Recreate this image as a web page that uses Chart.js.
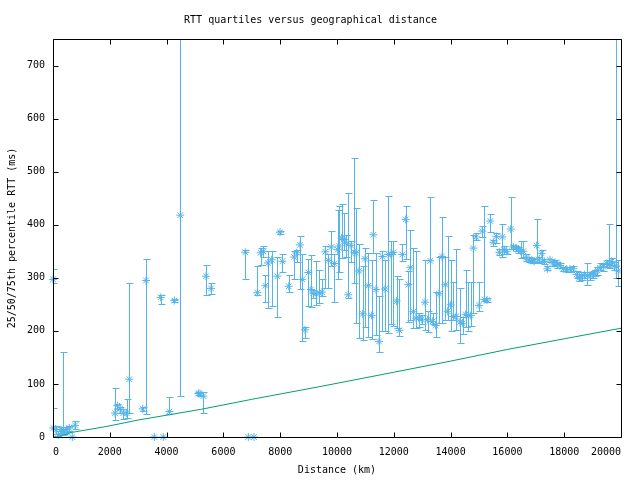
<!DOCTYPE html>
<html>
<head>
<meta charset="utf-8">
<script src="https://cdn.jsdelivr.net/npm/chart.js@4.4.0/dist/chart.umd.min.js"></script>
<style>
  html, body { margin: 0; padding: 0; background: #fff; }
  #wrap { width: 640px; height: 480px; }
</style>
</head>
<body>
<div id="wrap"><canvas id="rttChart" width="640" height="480"></canvas></div>
<script>
// distance (km) and 25/50/75th percentile RTT (ms)
const distKm = [
  0, 11, 106, 188, 282, 363, 387, 482, 575, 680, 775,
  2183, 2265, 2360, 2477, 2594, 2688, 3158, 3275, 3568, 3792, 3885, 4096, 4272, 4483,
  5117, 5176, 5293, 5387, 5563, 6772, 6877, 7077, 7194, 7312, 7406, 7476, 7570, 7700,
  7900, 7993, 8075, 8300, 8490, 8580, 8697, 8778, 8873, 8990, 9085, 9167, 9261, 9378,
  9472, 9589, 9695, 9800, 9906, 10024, 10080, 10165, 10246, 10320, 10398, 10493, 10610,
  10669, 10775, 10905, 10986, 11103, 11221, 11280, 11373, 11479, 11596, 11690, 11807,
  11901, 11983, 12101, 12195, 12300, 12418, 12511, 12582, 12688, 12782, 12887, 12982,
  13099, 13193, 13286, 13369, 13475, 13592, 13697, 13815, 13897, 14003, 14095, 14190,
  14331, 14426, 14532, 14624, 14708, 14800, 14894, 15000, 15116, 15187, 15282, 15398,
  15504, 15609, 15715, 15821, 15880, 15975, 16116, 16209, 16303, 16385, 16468, 16561,
  16655, 16761, 16855, 16937, 17032, 17113, 17208, 17300, 17405, 17500, 17595, 17676,
  17757, 17852, 17969, 18087, 18204, 18321, 18439, 18521, 18616, 18708, 18814, 18908,
  19003, 19085, 19165, 19261, 19377, 19496, 19577, 19672, 19764, 19830, 19905
];
const rttMedian = [
  297, 17, 14, 4, 14, 12, 11, 14, 17, 0, 22,
  45, 59, 53, 45, 45, 109, 53, 295, 0, 263, 0, 48, 257, 418,
  82, 82, 77, 303, 280, 348, 0, 0, 272, 347, 350, 285, 328, 334,
  303, 386, 331, 284, 339, 347, 362, 297, 202, 310, 278, 271, 270, 271,
  273, 349, 333, 358, 327, 353, 360, 375, 372, 365, 268, 361, 348,
  347, 313, 232, 336, 285, 229, 381, 278, 180, 340, 279, 344,
  344, 348, 256, 201, 344, 410, 287, 319, 236, 224, 224, 222,
  254, 221, 332, 218, 210, 270, 340, 287, 237, 249, 227, 227,
  217, 214, 231, 229, 229, 356, 377, 248, 388, 259, 258, 407,
  367, 378, 348, 377, 353, 350, 392, 358, 356, 353, 350, 350,
  338, 334, 333, 331, 361, 334, 346, 331, 317, 334, 328, 329,
  325, 323, 317, 316, 316, 317, 306, 300, 302, 306, 304, 304,
  306, 309, 314, 319, 321, 327, 325, 331, 322, 322, 313
];
const rttLow = [
  290, 2, 5, 1, 8, 3, 6, 9, 12, 0, 15,
  32, 52, 46, 34, 35, 46, 49, 44, 0, 251, 0, 44, 254, 78,
  79, 78, 45, 267, 270, 298, 0, 0, 268, 324, 340, 254, 243, 247,
  226, 382, 311, 274, 297, 330, 278, 180, 187, 246, 245, 262, 249, 253,
  265, 281, 281, 322, 254, 298, 310, 338, 353, 340, 262, 330, 290,
  215, 187, 183, 208, 188, 185, 347, 193, 161, 200, 199, 196,
  213, 210, 205, 190, 331, 336, 216, 221, 205, 206, 208, 213,
  202, 197, 218, 213, 188, 215, 215, 220, 221, 200, 220, 202,
  177, 195, 208, 199, 210, 234, 371, 237, 377, 256, 254, 386,
  360, 365, 343, 340, 345, 345, 355, 355, 350, 346, 338, 340,
  332, 330, 327, 329, 330, 328, 330, 326, 315, 329, 322, 325,
  318, 318, 312, 310, 310, 312, 300, 294, 296, 300, 287, 296,
  300, 303, 306, 314, 313, 320, 318, 325, 314, 300, 284
];
const rttHigh = [
  317, 55, 20, 12, 18, 161, 16, 18, 20, 0, 30,
  93, 63, 57, 52, 72, 290, 57, 336, 0, 268, 0, 76, 260, 800,
  85, 85, 85, 324, 290, 353, 0, 0, 323, 356, 359, 305, 351, 351,
  340, 389, 345, 305, 350, 352, 378, 344, 208, 336, 343, 277, 331, 315,
  298, 359, 344, 389, 344, 427, 436, 439, 422, 380, 460, 370, 526,
  432, 364, 323, 356, 347, 334, 447, 347, 266, 350, 333, 454,
  369, 370, 303, 297, 363, 436, 312, 391, 356, 350, 234, 230,
  334, 237, 452, 233, 274, 340, 415, 340, 378, 333, 293, 354,
  281, 227, 314, 293, 293, 381, 385, 293, 397, 436, 262, 420,
  372, 384, 354, 402, 360, 355, 452, 362, 360, 358, 369, 369,
  345, 340, 338, 335, 411, 340, 353, 335, 322, 336, 332, 333,
  330, 327, 320, 320, 321, 322, 312, 310, 307, 311, 328, 310,
  312, 314, 320, 328, 326, 333, 402, 338, 330, 800, 334
];
// lower bound line (light in fibre)
const fiberKm = [70, 700, 1900, 3000, 5200, 7000, 9400, 12000, 14000, 16000, 18000, 19900, 20000];
const fiberMs = [0, 9, 20, 32, 52, 71, 95, 122, 143, 165, 185, 204, 205];

const xTicks = [0, 2000, 4000, 6000, 8000, 10000, 12000, 14000, 16000, 18000, 20000];
const yTicks = [0, 100, 200, 300, 400, 500, 600, 700];

const blue = '#56b4e9';
const green = '#009e73';
const monoFont = { family: '"DejaVu Sans Mono", monospace', size: 10, weight: 'normal' };

// error bars + gnuplot style frame with inward ticks
const gnuFrame = {
  id: 'gnuFrame',
  beforeDatasetsDraw(chart) {
    const { ctx, chartArea: a } = chart;
    const xs = chart.scales.x, ys = chart.scales.y;
    ctx.save();
    ctx.beginPath();
    ctx.rect(a.left, a.top, a.right - a.left, a.bottom - a.top + 1);
    ctx.clip();
    ctx.strokeStyle = blue;
    ctx.lineWidth = 1;
    ctx.beginPath();
    for (let i = 0; i < distKm.length; i++) {
      const x = Math.round(xs.getPixelForValue(distKm[i])) + 0.5;
      const yl = Math.round(ys.getPixelForValue(rttLow[i])) + 0.5;
      const yh = Math.round(ys.getPixelForValue(rttHigh[i])) + 0.5;
      if (yl - yh < 1) continue;
      ctx.moveTo(x, yl); ctx.lineTo(x, yh);
      ctx.moveTo(x - 3, yl); ctx.lineTo(x + 4, yl);
      ctx.moveTo(x - 3, yh); ctx.lineTo(x + 4, yh);
    }
    ctx.stroke();
    ctx.restore();
  },
  afterDraw(chart) {
    const { ctx, chartArea: a } = chart;
    const xs = chart.scales.x, ys = chart.scales.y;
    const L = Math.round(a.left) + 0.5, R = Math.round(a.right) + 0.5;
    const T = Math.round(a.top) + 0.5, B = Math.round(a.bottom) + 0.5;
    const tl = 5;
    ctx.save();
    ctx.strokeStyle = '#000';
    ctx.lineWidth = 1;
    ctx.beginPath();
    ctx.rect(L, T, R - L, B - T);
    xTicks.forEach(v => {
      const x = Math.round(xs.getPixelForValue(v)) + 0.5;
      ctx.moveTo(x, B); ctx.lineTo(x, B - tl);
      ctx.moveTo(x, T); ctx.lineTo(x, T + tl);
    });
    yTicks.forEach(v => {
      const y = Math.round(ys.getPixelForValue(v)) + 0.5;
      ctx.moveTo(L, y); ctx.lineTo(L + tl, y);
      ctx.moveTo(R, y); ctx.lineTo(R - tl, y);
    });
    ctx.stroke();
    ctx.restore();
  }
};

new Chart(document.getElementById('rttChart'), {
  type: 'scatter',
  data: {
    datasets: [{
      data: distKm.map((d, i) => ({ x: d, y: rttMedian[i] })),
      pointStyle: 'star',
      pointRadius: 4,
      borderColor: blue,
      backgroundColor: blue,
      borderWidth: 1,
      clip: false
    }, {
      type: 'line',
      data: fiberKm.map((d, i) => ({ x: d, y: fiberMs[i] })),
      borderColor: green,
      borderWidth: 1,
      pointRadius: 0,
      fill: false,
      tension: 0
    }]
  },
  options: {
    responsive: false,
    animation: false,
    devicePixelRatio: 1,
    layout: { padding: { left: 0, right: 19, top: 0, bottom: 0 } },
    plugins: {
      legend: { display: false },
      tooltip: { enabled: false },
      title: {
        display: true,
        text: 'RTT quartiles versus geographical distance',
        color: '#000',
        font: monoFont,
        padding: { top: 14, bottom: 13 }
      }
    },
    scales: {
      x: {
        type: 'linear',
        min: 0,
        max: 20000,
        afterBuildTicks: s => { s.ticks = xTicks.map(v => ({ value: v })); },
        afterFit: s => { s.height = 43; s.paddingLeft = 0; s.paddingRight = 0; },
        grid: { display: false, drawTicks: false },
        border: { display: false },
        ticks: { color: '#000', font: monoFont, padding: 9, maxRotation: 0, autoSkip: false, align: 'inner', callback: v => String(v) },
        title: { display: true, text: 'Distance (km)', color: '#000', font: monoFont, padding: { top: 0, bottom: 4 } }
      },
      y: {
        type: 'linear',
        min: 0,
        max: 750,
        afterBuildTicks: s => { s.ticks = yTicks.map(v => ({ value: v })); },
        afterFit: s => { s.width = 53; },
        grid: { display: false, drawTicks: false },
        border: { display: false },
        ticks: { color: '#000', font: monoFont, padding: 8, callback: v => String(v) },
        title: { display: true, text: '25/50/75th percentile RTT (ms)', color: '#000', font: monoFont, padding: { top: 6, bottom: 0 } }
      }
    }
  },
  plugins: [gnuFrame]
});
</script>
</body>
</html>
